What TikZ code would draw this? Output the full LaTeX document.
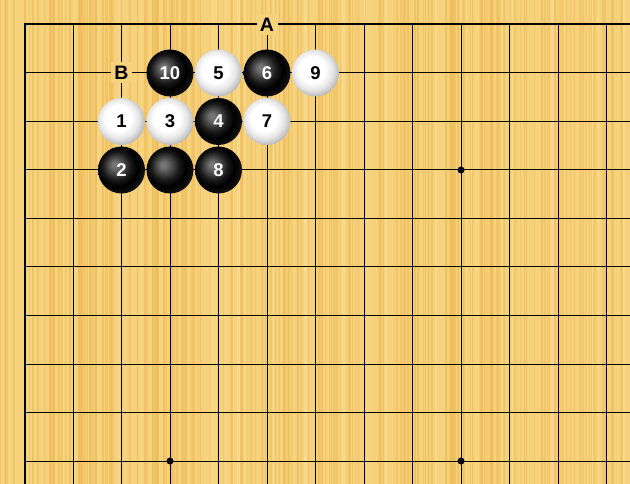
\documentclass[tikz,border=0pt]{standalone}
\usepackage{fontspec}
\newfontfamily\goFont{Liberation Sans}
\definecolor{wood}{RGB}{247,210,124}
\definecolor{woodDark}{RGB}{238,188,90}
\definecolor{woodLight}{RGB}{251,222,150}
\pgfdeclareradialshading{blackstone}{\pgfpoint{-7.5bp}{6bp}}{%
  color(0bp)=(black!52); color(3bp)=(black!55); color(15bp)=(black!90);
  color(21bp)=(black); color(27bp)=(black!94); color(33bp)=(black!78);
  color(50bp)=(black!78)}
\pgfdeclareradialshading{whitestone}{\pgfpoint{-5bp}{5bp}}{%
  color(0bp)=(white); color(14bp)=(white); color(21bp)=(black!10);
  color(27bp)=(black!26); color(33bp)=(black!40); color(50bp)=(black!40)}
\tikzset{
  stone/.style={circle, minimum size=47pt, inner sep=0pt,
    font=\goFont\bfseries\fontsize{18.5}{19}\selectfont},
  bstone/.style={stone, shading=blackstone, text=white},
  wstone/.style={stone, shading=whitestone, text=black},
  boardlbl/.style={fill=wood, minimum width=21pt, minimum height=21pt,
    inner sep=0pt, font=\goFont\bfseries\fontsize{19.5}{20}\selectfont},
  gridline/.style={line width=1pt, black},
  edgeline/.style={line width=2pt, black},
  star/.style={circle, fill=black, minimum size=7pt, inner sep=0pt}
}
\newcommand{\gp}[2]{({24.5+48.5*#1},{24.5+48.5*#2})}
\begin{document}
\begin{tikzpicture}[x=1pt,y=-1pt]
\useasboundingbox (0,0) rectangle (630,484);
% wood background
\fill[wood] (0,0) rectangle (630,484);
\pgfmathsetseed{7}
\foreach \i in {1,...,280}{
  \pgfmathsetmacro\xx{rnd*630}
  \pgfmathsetmacro\ww{0.6+rnd*1.8}
  \pgfmathsetmacro\op{0.25+rnd*0.5}
  \fill[woodDark, opacity=\op] (\xx,0) rectangle ({\xx+\ww},484);
}
\foreach \i in {1,...,80}{
  \pgfmathsetmacro\xx{rnd*630}
  \pgfmathsetmacro\ww{0.6+rnd*1.2}
  \fill[woodLight, opacity=0.5] (\xx,0) rectangle ({\xx+\ww},484);
}
% grid
\foreach \k in {1,...,12}{
  \draw[gridline] ({24.5+48.5*\k},24.5) -- ({24.5+48.5*\k},484);
}
\foreach \k in {1,...,9}{
  \draw[gridline] (24.5,{24.5+48.5*\k}) -- (630,{24.5+48.5*\k});
}
\draw[edgeline, line cap=square] (630,24.5) -- (24.5,24.5) -- (24.5,484);
% star points
\node[star] (h1) at \gp{9}{3} {};
\node[star] (h2) at \gp{3}{9} {};
\node[star] (h3) at \gp{9}{9} {};
% labels
\node[boardlbl] (A) at \gp{5}{0} {A};
\node[boardlbl] (B) at \gp{2}{1} {B};
% stones
\node[bstone] (s10) at \gp{3}{1} {10};
\node[wstone] (s5) at \gp{4}{1} {5};
\node[bstone] (s6) at \gp{5}{1} {6};
\node[wstone] (s9) at \gp{6}{1} {9};
\node[wstone] (s1) at \gp{2}{2} {1};
\node[wstone] (s3) at \gp{3}{2} {3};
\node[bstone] (s4) at \gp{4}{2} {4};
\node[wstone] (s7) at \gp{5}{2} {7};
\node[bstone] (s2) at \gp{2}{3} {2};
\node[bstone] (s0) at \gp{3}{3} {};
\node[bstone] (s8) at \gp{4}{3} {8};
\end{tikzpicture}
\end{document}
